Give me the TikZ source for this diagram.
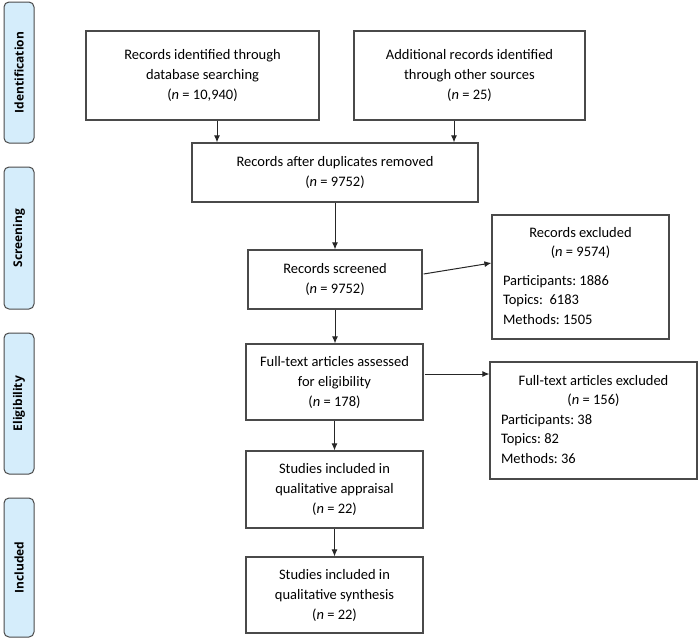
\documentclass[tikz,border=0pt]{standalone}
\usepackage{fontspec}
\setmainfont{Carlito}
\newfontfamily\labfont{Open Sans}
\usetikzlibrary{arrows.meta,calc}
\definecolor{labfill}{HTML}{D5EDFB}
\definecolor{edge}{HTML}{4A4A4A}
\begin{document}
\begin{tikzpicture}[x=1pt,y=-1pt,
  box/.style={draw=edge,line width=1.2pt,fill=white,align=center,inner sep=0pt,
    font=\fontsize{14.5}{20}\selectfont},
  exbox/.style={draw=edge,line width=1.2pt,fill=white,inner sep=0pt,
    font=\fontsize{14.5}{19.5}\selectfont},
  phase/.style={draw=edge,line width=1pt,fill=labfill,rounded corners=5pt,rotate=90,
    minimum height=30pt,inner sep=0pt,font=\labfont\bfseries\fontsize{12}{14}\selectfont},
  arr/.style={draw=black!85,line width=1pt,-{Latex[length=7pt,width=6pt]}}
]
\useasboundingbox (0,0) rectangle (699,643);

% phase labels
\node[phase,minimum width=141pt] (pid) at (19,72.5) {Identification};
\node[phase,minimum width=142pt] (psc) at (19,238) {Screening};
\node[phase,minimum width=141pt] (pel) at (19,403.5) {Eligibility};
\node[phase,minimum width=139pt] (pin) at (19,567.5) {Included};

% boxes
\node[box,minimum width=233pt,minimum height=89pt] (id1) at (202.5,75.5)
  {Records identified through\\database searching\\(\textit{n} = 10,940)};
\node[box,minimum width=231pt,minimum height=89pt] (id2) at (469.5,75.5)
  {Additional records identified\\through other sources\\(\textit{n} = 25)};
\node[box,minimum width=286pt,minimum height=59pt] (dedup) at (335,172.5)
  {Records after duplicates removed\\(\textit{n} = 9752)};
\node[box,minimum width=174pt,minimum height=59pt] (scr) at (335,279.5)
  {Records screened\\(\textit{n} = 9752)};
\node[exbox,minimum width=177pt,minimum height=124pt] (ex1) at (580.5,277)
  {\begin{tabular}{@{}l@{}}
   \makebox[155pt]{Records excluded}\\
   \makebox[155pt]{(\textit{n} = 9574)}\\[9pt]
   Participants:\ 1886\\
   Topics:\ \ 6183\\
   Methods:\ 1505
   \end{tabular}};
\node[box,minimum width=177pt,minimum height=76pt] (full) at (334.5,382)
  {Full-text articles assessed\\for eligibility\\(\textit{n} = 178)};
\node[exbox,minimum width=207pt,minimum height=117pt] (ex2) at (593.5,420.5)
  {\begin{tabular}{@{}l@{}}
   \makebox[185pt]{Full-text articles excluded}\\
   \makebox[185pt]{(\textit{n} = 156)}\\
   Participants:\ 38\\
   Topics:\ 82\\
   Methods:\ 36
   \end{tabular}};
\node[box,minimum width=177pt,minimum height=77pt] (appr) at (334.5,489.5)
  {Studies included in\\qualitative appraisal\\(\textit{n} = 22)};
\node[box,minimum width=177pt,minimum height=76pt] (synth) at (334.5,595)
  {Studies included in\\qualitative synthesis\\(\textit{n} = 22)};

% connectors
\coordinate (a1) at (217,0);
\coordinate (a2) at (454,0);
\coordinate (s1) at ($(scr.east)+(1,-5.5)$);
\coordinate (e1) at ($(ex1.west)+(0,-14)$);
\coordinate (f1) at ($(full.east)+(1,-8)$);
\draw[arr] (id1.south -| a1) -- (dedup.north -| a1);
\draw[arr] (id2.south -| a2) -- (dedup.north -| a2);
\draw[arr] (dedup.south -| scr.north) -- (scr.north);
\draw[arr] (scr.south) -- (scr.south |- full.north);
\draw[arr] (s1) -- (e1);
\draw[arr] (f1) -- (f1 -| ex2.west);
\draw[arr] (full.south) -- (appr.north);
\draw[arr] (appr.south) -- (synth.north);
\end{tikzpicture}
\end{document}
